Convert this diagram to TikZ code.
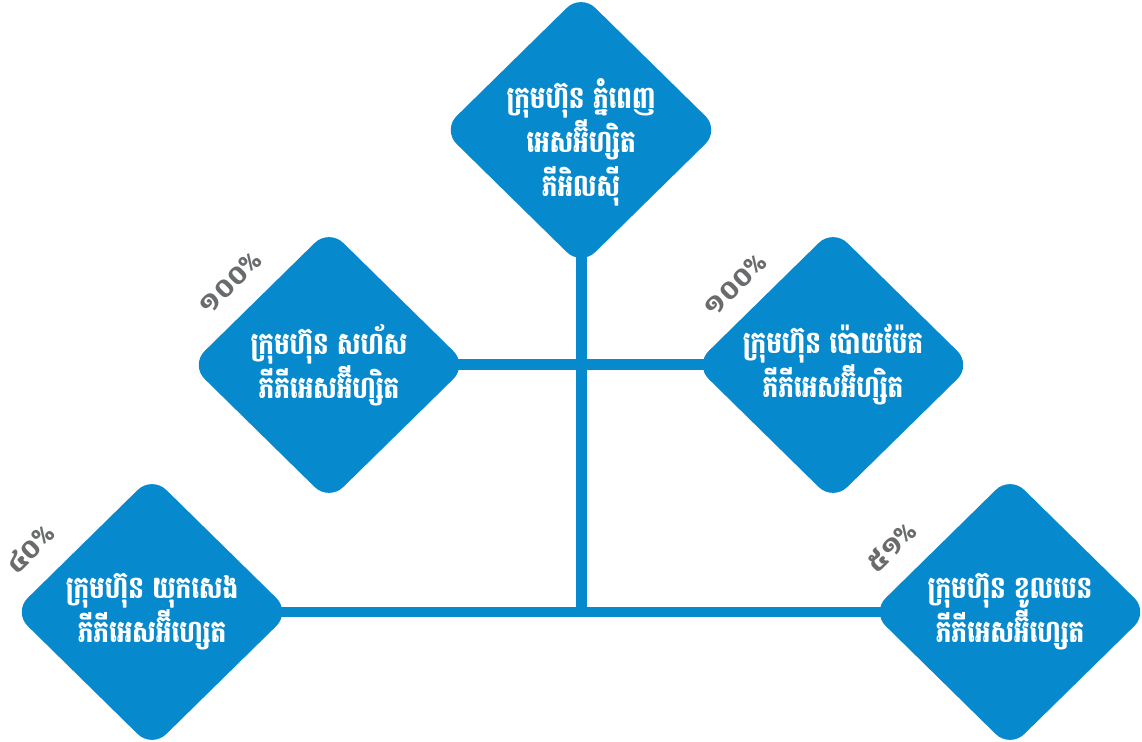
\documentclass[tikz,border=0pt]{standalone}
\usepackage{fontspec}
\newfontfamily\khmerfont[Script=Khmer, FakeStretch=0.8]{Battambang}
\newfontfamily\stakefont[Script=Khmer]{Battambang}
\usetikzlibrary{shapes.geometric,backgrounds}
\definecolor{zoneblue}{HTML}{0789CE}
\definecolor{stakegray}{HTML}{6A6B6D}

\begin{document}
\begin{tikzpicture}[x=0.02cm, y=-0.02cm,
	zone/.style = {diamond, fill=zoneblue, minimum width=5.55cm, minimum height=5.45cm, inner sep=0pt, rounded corners=0.4cm},
	zonetext/.style = {text=white, font=\khmerfont\bfseries\fontsize{17.5}{25}\selectfont, align=center},
	stake/.style = {text=stakegray, font=\stakefont\bfseries\fontsize{15}{16}\selectfont, rotate=45},
	link/.style = {draw=zoneblue, line width=0.22cm}]
	\useasboundingbox (0,0) rectangle (1142,742);
	\node[zone] (top) at (581,130) {};
	\node[zone] (ml) at (329,365) {};
	\node[zone] (mr) at (833,365) {};
	\node[zone] (bl) at (152,612) {};
	\node[zone] (br) at (1010,612) {};
	\coordinate (hub) at (top.center |- bl.center);
	\begin{scope}[on background layer]
		\path[link] (top.center) -- (hub);
		\path[link] (ml.center) -- (mr.center);
		\path[link] (bl.center) -- (br.center);
	\end{scope}
	\node[zonetext] (top-t) at (581,142) {ក្រុមហ៊ុន ភ្នំពេញ\\អេសអ៊ីហ្សិត\\ភីអិលស៊ី};
	\node[zonetext] (ml-t) at (ml) {ក្រុមហ៊ុន សហ័ស\\ភីភីអេសអ៊ីហ្សិត};
	\node[zonetext] (mr-t) at (mr) {ក្រុមហ៊ុន ប៉ោយប៉ែត\\ភីភីអេសអ៊ីហ្សិត};
	\node[zonetext] (bl-t) at (bl) {ក្រុមហ៊ុន យុកសេង\\ភីភីអេសអ៊ីហ្សេត};
	\node[zonetext] (br-t) at (br) {ក្រុមហ៊ុន ខូលបេន\\ភីភីអេសអ៊ីហ្សេត};
	% shares
	\node[stake] (ml-s) at (230,283) {១០០\%};
	\node[stake] (mr-s) at (735,285) {១០០\%};
	\node[stake] (bl-s) at (30,549) {៤០\%};
	\node[stake] (br-s) at (891,547) {៥១\%};
\end{tikzpicture}
\end{document}
